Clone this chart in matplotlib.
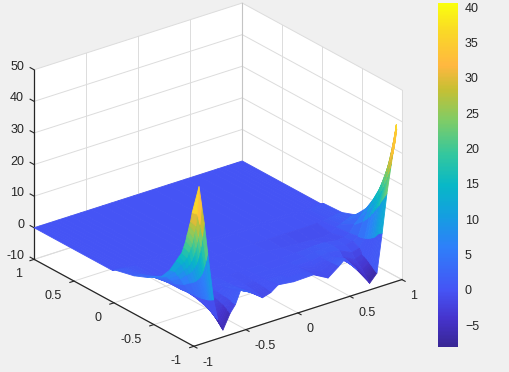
import numpy as np
import matplotlib
matplotlib.use('Agg')
import matplotlib.pyplot as plt
from matplotlib.cm import ScalarMappable
from matplotlib.colors import LinearSegmentedColormap, Normalize
from mpl_toolkits.mplot3d.art3d import Poly3DCollection
from mpl_toolkits.mplot3d import proj3d

plt.rcParams['font.family'] = ['Liberation Sans', 'DejaVu Sans']

x_nodes = [-1, -.95, -.925, -.9, -.866, -.81, -.77, -.72, -.65, -.6, -.55, -.45, -.34, -.26, -.19,
           -.04, .15, .29, .39, .455, .57, .69, .76, .81, .856, .9, .925, .95, 1]
y_nodes = [1, .02, -.02, -.25, -.42, -.59, -.7, -.78, -.815, -.85, -.875, -.9, -.915, -.93, -.945, -.96, -.98, -1]

# one row per y node
z_values = [
    [0] * 29,
    [0] * 29,
    [.6, .5, .4, .3, .2, 0, 0, 0, 0, 0, 0, 0, 0, 0, 0, 0, 0, 0, 0, 0, 0, 0, 0, 0, .1, .2, .25, .3, .6],
    [2, 1.8, 1.5, 1.2, .8, .1, 0, 0, 0, 0, 0, 0, 0, 0, 0, 0, 0, -.1, -.1, -.1, -.1, -.1, 0, .2, .4, .6, .7, .9, .9],
    [3.8, 3.6, 3, 2.5, 1.6, .3, -.1, -.2, -.1, 0, .1, 0, -.1, 0, 0, 0, 0, -.5, -.7, -.8, -1, -1.2, -.8, .5, 1.1, 1.7, 2, 2.4, 2.5],
    [6.3, 6, 5, 4.2, 2.7, .4, -.4, -.8, -.3, -.1, .3, .1, -.2, -.1, .1, 0, .1, .2, .4, .6, .6, 0, .3, 1, 3.3, 4.7, 5.6, 6.5, 7.5],
    [10, 9, 7.5, 6.2, 4, .7, -.7, -1.4, -.6, -.2, .5, .2, -.3, -.1, .2, .1, .1, .6, 1, 1.2, 1.1, 0, .5, 1.5, 5.8, 8.4, 10, 11.5, 13],
    [14, 12.4, 10.3, 8.5, 5.6, .9, -1.2, -2.3, -1, -.3, .9, .4, -.5, -.2, .3, .1, .2, .3, .8, 1.2, .6, -1.2, -.6, 2, 8.3, 12, 14, 16, 19],
    [15.8, 13.8, 11.5, 9.5, 6.3, 1, -1.5, -2.9, -1.2, -.4, 1.1, .4, -.6, -.3, .3, .1, .2, -.7, .2, .9, -.9, -2.9, -2, 2.5, 9.8, 13.8, 16.2, 18.5, 22.5],
    [17.5, 15.5, 13, 10.7, 7.1, 1.1, -1.8, -3.5, -1.4, -.5, 1.4, .5, -.7, -.4, .4, .1, .2, -.9, .2, 1, -1.1, -3.6, -2.4, 3, 11.4, 16, 18.6, 21, 26],
    [19.7, 17.5, 14.5, 12, 8, 1.3, -2.1, -4.1, -1.7, -.5, 1.6, .6, -.8, -.4, .5, .2, .3, -1, .3, 1.2, -1.2, -4.1, -2.8, 3.5, 12.6, 17.5, 20.4, 23, 29.5],
    [22, 19.5, 16.3, 13.4, 8.9, 1.5, -2.4, -4.7, -1.9, -.6, 1.8, .7, -1, -.5, .5, .2, .3, -1.2, .3, 1.4, -1.4, -4.7, -3.2, 4, 13.6, 19, 22.2, 25, 33],
    [24, 21, 17.7, 14.6, 9.7, 1.6, -2.6, -5.1, -2.1, -.7, 2, .8, -1.1, -.5, .6, .2, .3, -1.3, .3, 1.5, -1.6, -5.2, -3.6, 4.5, 14.5, 20.3, 23.5, 26.5, 35.5],
    [25.5, 23, 19.5, 16, 10.6, 1.7, -2.9, -5.6, -2.3, -.7, 2.2, .9, -1.2, -.6, .7, .2, .4, -1.4, .4, 1.7, -1.7, -5.7, -3.9, 5, 15.3, 21.6, 24.8, 28, 38],
    [27.5, 25, 21.5, 17.8, 11.8, 1.9, -3.1, -6.1, -2.5, -.8, 2.3, .9, -1.2, -.6, .7, .2, .4, -1.6, .4, 1.8, -1.9, -6.2, -4.2, 5.6, 16, 22.8, 26, 29.5, 38],
    [29, 27, 23.5, 20, 13.3, 2.1, -3.4, -6.6, -2.7, -.8, 2.6, 1, -1.4, -.7, .8, .3, .4, -1.7, .4, 2, -2, -6.7, -4.6, 6, 16.8, 24, 27.5, 31, 38],
    [32, 31, 27.5, 23.5, 15.5, 2.4, -3.7, -7.2, -2.9, -.9, 2.8, 1.1, -1.5, -.7, .8, .3, .5, -1.8, .5, 2.1, -2.2, -7.3, -5, 6.4, 17.8, 26, 30, 34, 38],
    [40, 40, 34, 28, 18, 2.7, -4, -7.8, -3.2, -1, 3, 1.2, -1.6, -.8, .9, .3, .5, -2, .5, 2.3, -2.4, -7.9, -5.4, 6.7, 18.8, 28, 33, 38, 38],
]

x_ticks = [-1, -.5, 0, .5, 1]
y_ticks = [-1, -.5, 0, .5, 1]
z_ticks = [-10, 0, 10, 20, 30, 40, 50]
tick_text = ['-1', '-0.5', '0', '0.5', '1']
cbar_ticks = [-5, 0, 5, 10, 15, 20, 25, 30, 35, 40]

ink = '#262626'
grid = '#dcdcdc'

# parula as it looks in the colorbar
parula = LinearSegmentedColormap.from_list('parula', [
    (0.00, (.22, .15, .58)), (.08, (.27, .2, .8)), (.165, (.27, .33, .96)),
    (.29, (.18, .5, .98)), (.38, (.08, .62, .88)), (.47, (.03, .72, .78)),
    (.56, (.2, .78, .62)), (.66, (.5, .8, .4)), (.75, (.78, .75, .2)),
    (.82, (1, .72, .25)), (.92, (.98, .85, .15)), (1.0, (.98, 1, .05))])
norm = Normalize(-8.1, 40.6)

fig = plt.figure(figsize=(5.1, 3.72), dpi=100, facecolor='#f0f0f0')
# 3d axes are kept square, so make it bigger than the figure
ax = fig.add_axes([-49 / 510, -69.7 / 372, 520 / 510, 520 / 372], projection='3d', computed_zorder=False)
ax.set_proj_type('ortho')
ax.view_init(elev=24.7, azim=-127.5)
ax.set_box_aspect((264, 264, 210), zoom=.7946)
ax.set_axis_off()
ax.patch.set_visible(False)
ax.set_xlim(-1, 1, view_margin=0)
ax.set_ylim(-1, 1, view_margin=0)
ax.set_zlim(-10, 50, view_margin=0)


def label(x, y, z, s, ha):
    px, py, _ = proj3d.proj_transform(x, y, z, ax.get_proj())
    ax.text2D(px, py, s, transform=ax.transData, ha=ha, va='center', fontsize=9, color=ink)


# back walls and floor, then the grid on them
walls = [[(-1, 1, -10), (1, 1, -10), (1, 1, 50), (-1, 1, 50)],
         [(1, 1, -10), (1, -1, -10), (1, -1, 50), (1, 1, 50)],
         [(-1, -1, -10), (1, -1, -10), (1, 1, -10), (-1, 1, -10)]]
ax.add_collection3d(Poly3DCollection(walls, facecolor='white', edgecolor='none', zorder=1))
for t in x_ticks:
    ax.plot([t, t], [-1, 1], [-10, -10], color=grid, lw=.7, zorder=2)
    ax.plot([t, t], [1, 1], [-10, 50], color=grid, lw=.7, zorder=2)
for t in y_ticks:
    ax.plot([-1, 1], [t, t], [-10, -10], color=grid, lw=.7, zorder=2)
    ax.plot([1, 1], [t, t], [-10, 50], color=grid, lw=.7, zorder=2)
for t in z_ticks:
    ax.plot([-1, 1], [1, 1], [t, t], color=grid, lw=.7, zorder=2)
    ax.plot([1, 1], [-1, 1], [t, t], color=grid, lw=.7, zorder=2)
ax.plot([1, 1], [1, 1], [-10, 50], color='#c4c4c4', lw=.8, zorder=2)

X, Y = np.meshgrid(x_nodes, y_nodes)
Z = np.array(z_values, dtype=float)
# the two front corners of the sheet are pulled in onto the spikes
X[-1, 0] = -.95
Y[-4:, -1] = -.93

facet_z = (Z[:-1, :-1] + Z[1:, :-1] + Z[:-1, 1:] + Z[1:, 1:]) / 4
surf = ax.plot_surface(X, Y, Z, facecolors=parula(norm(facet_z)), rstride=1, cstride=1,
                       linewidth=.6, antialiased=True, shade=False, zorder=5)

# axis lines, ticks and labels
ax.plot([-1, -1], [1, 1], [-10, 50], color=ink, lw=.9, zorder=3)
ax.plot([-1, -1], [-1, 1], [-10, -10], color=ink, lw=.9, zorder=3)
ax.plot([-1, 1], [-1, -1], [-10, -10], color=ink, lw=.9, zorder=3)
for t, s in zip(x_ticks, tick_text):
    ax.plot([t, t], [-1, -1.04], [-10, -10], color=ink, lw=.8, zorder=3)
    label(t, -1.105, -13.7, s, 'left')
for t, s in zip(y_ticks, tick_text):
    ax.plot([-1, -1.04], [t, t], [-10, -10], color=ink, lw=.8, zorder=3)
    label(-1.12, t, -13.5, s, 'right')
for t in z_ticks:
    ax.plot([-1, -1], [1, 1.05], [t, t], color=ink, lw=.8, zorder=3)
    label(-1, 1.125, t - .8, str(t), 'right')

cax = fig.add_axes([438 / 510, 1 - 347 / 372, 20 / 510, 344 / 372])
cb = fig.colorbar(ScalarMappable(norm=norm, cmap=parula), cax=cax, ticks=cbar_ticks)
cb.outline.set_visible(False)
cb.ax.tick_params(length=0, labelsize=9, colors=ink, pad=5)

fig.savefig('out.png', dpi=100, facecolor=fig.get_facecolor())
